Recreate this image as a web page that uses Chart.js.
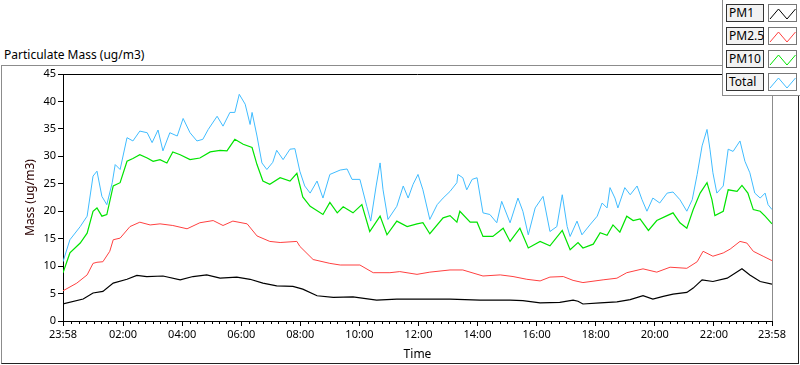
<!DOCTYPE html>
<html>
<head>
<meta charset="utf-8">
<script src="https://cdn.jsdelivr.net/npm/chart.js@4.4.0/dist/chart.umd.min.js"></script>
<style>
  body { margin: 0; background: #fff; font-family: "Noto Sans", sans-serif; }
  #wrap { position: relative; width: 800px; height: 365px; overflow: hidden; }
  #frame { position: absolute; left: 1px; top: 65px; width: 798px; height: 299px; box-sizing: border-box;
           border-top: 1px solid #8c8c8c; border-left: 1px solid #8c8c8c;
           border-right: 1px solid #222; border-bottom: 1px solid #222; }
  #chartTitle { position: absolute; left: 4px; top: 46px; font-size: 12px; color: #000; }
  canvas { position: absolute; left: 0; top: 0; }
  #legend { position: absolute; left: 722px; top: 0; width: 78px; height: 96px; background: #fff;
            border-left: 1px solid #8c8c8c; border-bottom: 1px solid #8c8c8c; box-sizing: border-box; }
  .lab { position: absolute; left: 3px; width: 38px; height: 18px; box-sizing: border-box;
         background: #f2f2f2; border: 1px solid #333; font-size: 12px; line-height: 16px; padding-left: 2px; }
  .smp { position: absolute; left: 45px; width: 29px; height: 18px; box-sizing: border-box;
         background: #fff; border: 1px solid #777; }
</style>
</head>
<body>
<div id="wrap">
  <div id="frame"></div>
  <div id="chartTitle">Particulate Mass (ug/m3)</div>
  <canvas id="pmChart" width="800" height="365"></canvas>
  <div id="legend"></div>
</div>
<script>
// minutes since 23:58 (0..1440) and values in ug/m3
var pm1Min = [0,41,61,81,102,130,150,170,203,238,264,292,319,353,380,406,434,467,487,516,549,589,637,678,731,786,847,908,934,969,1009,1036,1046,1056,1091,1125,1152,1178,1198,1219,1239,1267,1280,1298,1320,1349,1379,1395,1416,1440];
var pm1Val = [3.1,4.0,5.1,5.4,6.9,7.6,8.3,8.1,8.2,7.5,8.1,8.4,7.8,8.0,7.6,6.9,6.4,6.3,5.8,4.6,4.3,4.4,3.8,4.0,4.0,4.0,3.8,3.8,3.7,3.3,3.4,3.8,3.6,3.1,3.3,3.5,3.9,4.6,4.0,4.5,4.9,5.2,6.0,7.5,7.2,7.8,9.5,8.4,7.2,6.7];

var pm25Min = [0,28,49,61,69,81,95,102,116,136,156,177,197,223,252,278,305,325,345,374,394,420,441,475,481,508,542,563,603,630,664,684,719,745,786,812,853,888,914,942,969,989,1016,1036,1056,1097,1125,1145,1178,1206,1233,1267,1288,1300,1320,1341,1355,1375,1389,1402,1422,1440];
var pm25Val = [5.5,6.9,8.4,10.5,10.7,10.8,12.7,14.8,15.1,17.2,18.0,17.5,17.7,17.4,16.8,17.9,18.3,17.4,18.2,17.7,15.5,14.5,14.3,14.5,13.6,11.2,10.5,10.2,10.2,8.8,8.8,9.0,8.5,8.9,9.3,9.3,8.2,8.4,8.1,7.6,7.3,8.0,8.1,7.4,7.0,7.5,7.8,8.8,9.5,8.9,9.8,9.6,10.8,12.7,11.8,12.4,13.1,14.5,14.2,12.7,11.8,11.0];

var pm10Min = [0,14,35,49,61,69,79,89,102,116,130,142,156,171,183,197,211,223,238,258,278,299,319,333,349,366,384,394,406,420,441,461,475,487,502,528,542,557,569,589,607,623,644,658,678,699,719,731,745,772,786,800,806,827,841,853,873,894,908,928,945,969,989,1014,1030,1046,1056,1077,1091,1105,1117,1131,1145,1158,1172,1189,1206,1227,1239,1253,1267,1280,1294,1308,1318,1324,1341,1351,1369,1379,1391,1402,1416,1426,1440];
var pm10Val = [8.8,12.4,14.2,16.0,20.0,20.6,19.1,19.4,24.6,25.2,29.1,29.6,30.3,29.7,29.1,29.4,28.8,30.8,30.3,29.4,29.7,30.8,31.1,31.0,33.1,32.2,31.6,28.5,25.5,24.9,26.1,25.5,26.9,22.6,20.9,19.4,21.6,19.7,20.8,19.7,21.2,16.3,19.1,15.7,18.2,17.2,17.7,17.9,15.9,18.8,19.2,18.0,20.0,18.0,18.0,15.4,15.4,16.9,14.5,16.9,13.3,14.5,13.7,16.5,13.0,14.3,13.3,14.0,16.1,15.6,17.5,16.2,19.1,18.3,18.6,16.5,18.3,19.2,19.7,17.9,16.9,20.3,23.3,25.2,22.1,19.2,20.0,23.9,23.6,24.7,23.3,20.3,20.0,19.1,17.7];

var totalMin = [0,14,35,49,61,69,79,89,100,106,116,130,142,156,171,181,193,203,217,232,244,258,272,284,295,313,325,339,349,358,370,380,384,394,404,414,426,434,447,461,471,481,491,502,516,528,542,563,577,587,603,617,625,636,644,650,660,678,691,701,711,721,731,745,760,772,786,800,802,812,820,831,841,853,867,881,891,908,924,934,945,959,975,989,1003,1014,1024,1030,1044,1054,1070,1085,1095,1105,1111,1121,1127,1141,1152,1166,1176,1186,1198,1212,1227,1239,1253,1267,1278,1288,1298,1308,1314,1320,1328,1341,1351,1361,1375,1385,1395,1405,1416,1426,1432,1440];
var totalVal = [10.8,14.8,17.2,19.1,26.4,27.3,22.7,21.2,25.2,28.5,27.6,33.4,32.8,34.6,34.3,32.5,34.8,31.0,34.3,33.7,36.9,34.3,32.8,33.1,34.9,37.3,35.5,38.0,38.0,41.3,39.5,35.8,38.0,33.7,28.8,27.6,28.9,31.1,29.4,31.3,31.4,27.3,24.6,23.3,25.5,22.4,26.7,27.5,27.7,25.8,25.8,20.9,18.2,24.6,28.8,23.9,18.5,20.9,24.6,22.4,24.9,26.7,23.9,18.5,21.2,22.4,23.6,25.2,26.7,26.1,23.9,25.8,26.1,19.7,19.4,17.9,21.8,17.9,22.4,20.0,15.7,20.6,22.7,16.3,17.2,23.0,17.2,15.4,18.2,15.7,17.5,19.1,21.5,20.6,24.3,22.4,20.6,24.3,23.0,24.6,22.1,20.0,22.4,21.5,23.3,23.5,22.1,20.0,22.1,26.7,31.9,34.9,31.3,27.0,23.3,24.6,31.3,30.9,32.8,29.1,27.0,23.3,22.4,23.3,21.2,20.3];

var seriesNames = ['PM1', 'PM2.5', 'PM10', 'Total'];
var seriesColors = ['#000000', '#ff4040', '#00e400', '#40bcff'];

// x tick positions (minutes since 23:58)
var majorTicks = [0,122,242,362,482,602,722,842,962,1082,1202,1322,1440];
var yTicks = [0,5,10,15,20,25,30,35,40,45];

function toPoints(mins, vals){
  return mins.map((m, i) => ({x: m, y: vals[i]}));
}

function clockLabel(v){
  var t = (1438 + v) % 1440;
  var h = Math.floor(t / 60), m = t % 60;
  return String(h).padStart(2, '0') + ':' + String(m).padStart(2, '0');
}

// minor ticks every 15 minutes of clock time
var minorTicks = [];
for(var c = 0; c < 1440; c += 15){
  if(c % 120 != 0) minorTicks.push(c + 2);
}

var tickFont = {family: '"Noto Sans", sans-serif', size: 11};

var framePlugin = {
  id: 'frame',
  afterDraw(chart){
    var ctx = chart.ctx, a = chart.chartArea, xs = chart.scales.x;
    ctx.save();
    ctx.lineWidth = 1;
    ctx.strokeStyle = '#000';
    ctx.beginPath();
    ctx.moveTo(a.left, a.top + 0.5);
    ctx.lineTo(a.right, a.top + 0.5);
    ctx.stroke();
    ctx.strokeStyle = '#8c8c8c';
    ctx.beginPath();
    ctx.moveTo(a.right + 0.5, a.top);
    ctx.lineTo(a.right + 0.5, a.bottom);
    ctx.stroke();
    // minor ticks
    ctx.strokeStyle = '#000';
    ctx.beginPath();
    minorTicks.forEach(v => {
      var px = Math.round(xs.getPixelForValue(v)) + 0.5;
      ctx.moveTo(px, a.bottom);
      ctx.lineTo(px, a.bottom + 3);
    });
    ctx.stroke();
    ctx.restore();
  }
};

var ctx = document.getElementById('pmChart').getContext('2d');
var chart = new Chart(ctx, {
  type: 'line',
  data: {
    datasets: [
      {label: seriesNames[0], data: toPoints(pm1Min, pm1Val), borderColor: seriesColors[0], borderWidth: 1.2},
      {label: seriesNames[1], data: toPoints(pm25Min, pm25Val), borderColor: seriesColors[1], borderWidth: 1},
      {label: seriesNames[2], data: toPoints(pm10Min, pm10Val), borderColor: seriesColors[2], borderWidth: 1.2},
      {label: seriesNames[3], data: toPoints(totalMin, totalVal), borderColor: seriesColors[3], borderWidth: 1}
    ]
  },
  options: {
    responsive: false,
    animation: false,
    layout: {padding: {left: 0, top: 74, right: 28, bottom: 0}},
    elements: {point: {radius: 0}, line: {tension: 0, fill: false}},
    plugins: {legend: {display: false}, tooltip: {enabled: false}},
    scales: {
      x: {
        type: 'linear', min: 0, max: 1440,
        afterFit: s => { s.height = 44; },
        afterBuildTicks: s => { s.ticks = majorTicks.map(v => ({value: v})); },
        ticks: {color: '#000', font: tickFont, maxRotation: 0, autoSkip: false, padding: 2,
                callback: v => clockLabel(v)},
        grid: {drawOnChartArea: false, tickLength: 5, tickColor: '#000'},
        border: {color: '#000'},
        title: {display: true, text: 'Time', color: '#000', font: {family: '"Noto Sans", sans-serif', size: 12},
                padding: {top: 0, bottom: 3}}
      },
      y: {
        min: 0, max: 45,
        afterFit: s => { s.width = 63; },
        afterBuildTicks: s => { s.ticks = yTicks.map(v => ({value: v})); },
        ticks: {color: '#000', font: tickFont, padding: 2},
        grid: {drawOnChartArea: false, tickLength: 5, tickColor: '#000'},
        border: {color: '#000'},
        title: {display: true, text: 'Mass (ug/m3)', color: '#2a0000', font: {family: '"Noto Sans", sans-serif', size: 12},
                padding: {top: 23, bottom: 0}}
      }
    }
  },
  plugins: [framePlugin]
});

// legend built from the chart's datasets
var legend = document.getElementById('legend');
chart.data.datasets.forEach((ds, i) => {
  var top = 4 + i * 23;
  legend.insertAdjacentHTML('beforeend',
    `<div class="lab" style="top:${top}px">${ds.label}</div>
     <div class="smp" style="top:${top}px">
       <svg width="27" height="16"><polyline points="1,13 9.5,3 18,13 26.5,3" fill="none" stroke="${ds.borderColor}" stroke-width="1"/></svg>
     </div>`);
});
</script>
</body>
</html>
